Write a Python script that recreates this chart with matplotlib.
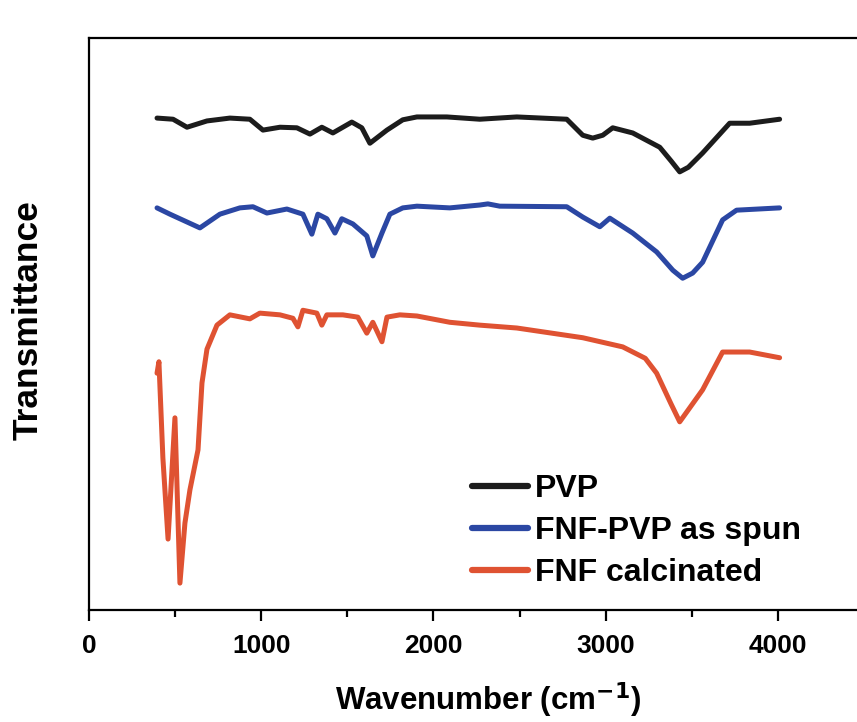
import numpy as np
import matplotlib.pyplot as plt

# FTIR spectra (transmittance in arbitrary units, 0-100 = plot height)
pvp_wn = [395, 488, 569, 685, 818, 934, 1010, 1109, 1207, 1283, 1352, 1416, 1526, 1584, 1631,
          1730, 1822, 1904, 2078, 2269, 2484, 2774, 2867, 2925, 2983, 3041, 3157, 3314, 3380, 3430,
          3480, 3563, 3720, 3836, 4010]
pvp_t = [86.0, 85.8, 84.4, 85.5, 86.0, 85.8, 83.9, 84.4, 84.3, 83.2, 84.4, 83.4, 85.3, 84.3, 81.6,
         83.9, 85.7, 86.2, 86.2, 85.8, 86.2, 85.8, 83.0, 82.5, 83.0, 84.3, 83.4, 80.9, 78.5, 76.6,
         77.4, 79.9, 85.1, 85.1, 85.8]

fnf_pvp_wn = [395, 470, 528, 644, 760, 876, 952, 1033, 1149, 1242, 1294, 1329, 1381, 1428, 1468, 1532,
              1613, 1648, 1701, 1747, 1822, 1904, 2095, 2269, 2316, 2385, 2774, 2867, 2966, 3024,
              3157, 3296, 3390, 3447, 3505, 3563, 3679, 3760, 4010]
fnf_pvp_t = [70.3, 69.2, 68.4, 66.8, 69.2, 70.3, 70.5, 69.4, 70.1, 69.2, 65.7, 69.2, 68.4, 65.9, 68.4, 67.5,
             65.4, 61.9, 65.9, 69.2, 70.3, 70.6, 70.3, 70.8, 71.0, 70.6, 70.5, 68.7, 67.0, 68.5,
             65.9, 62.6, 59.4, 58.0, 58.9, 60.8, 68.2, 69.9, 70.3]

fnf_calc_wn = [395, 406, 429, 459, 499, 528, 557, 586, 633, 656, 685, 743, 818, 934, 992, 1109, 1184,
               1213, 1242, 1323, 1352, 1381, 1474, 1561, 1613, 1648, 1701, 1730, 1805, 1904, 2095,
               2269, 2484, 2867, 3099, 3230, 3296, 3380, 3430, 3480, 3563, 3679, 3836, 4010]
fnf_calc_t = [41.4, 43.4, 26.6, 12.4, 33.6, 4.7, 15.2, 21.0, 28.0, 39.7, 45.6, 49.8, 51.6, 50.9, 51.9,
              51.6, 51.0, 49.5, 52.4, 51.9, 49.8, 51.6, 51.6, 51.2, 48.4, 50.3, 46.9, 51.2, 51.6,
              51.4, 50.3, 49.8, 49.3, 47.6, 46.0, 44.0, 41.4, 36.0, 32.9, 35.0, 38.5, 45.1, 45.1, 44.1]

labels = ['PVP', 'FNF-PVP as spun', 'FNF calcinated']
colors = ['#1c1c1c', '#2b47a3', '#df5232']

font = ['Liberation Sans', 'DejaVu Sans']

fig = plt.figure(figsize=(8.57, 7.22), dpi=100)
ax = fig.add_axes([89 / 857, 112 / 722, 775 / 857, 572 / 722])

series = [(pvp_wn, pvp_t), (fnf_pvp_wn, fnf_pvp_t), (fnf_calc_wn, fnf_calc_t)]
for (wn, t), lab, c in zip(series, labels, colors):
    ax.plot(wn, t, color=c, lw=3.6, label=lab, solid_capstyle='round', solid_joinstyle='round')

ax.set_xlim(0, 4500)
ax.set_ylim(0, 100)
ax.set_xticks([0, 1000, 2000, 3000, 4000])
ax.set_xticks(np.arange(500, 4500, 1000), minor=True)
ax.set_yticks([])
ax.tick_params(axis='x', which='major', length=8, width=1.6, direction='out', pad=9)
ax.tick_params(axis='x', which='minor', length=5, width=1.6, direction='out')
for lbl in ax.get_xticklabels():
    lbl.set_family(font)
    lbl.set_fontweight('bold')
    lbl.set_fontsize(19)
for sp in ax.spines.values():
    sp.set_linewidth(1.6)

fig.text(488 / 857, 1 - 700 / 722, 'Wavenumber (cm$^{\\mathbf{-1}}$)', ha='center', va='center',
         family=font, fontweight='bold', fontsize=22.5)
fig.text(28 / 857, 1 - 320 / 722, 'Transmittance', rotation=90, ha='center', va='center',
         family=font, fontweight='bold', fontsize=25.5)

leg = ax.legend(loc='upper left', bbox_to_anchor=(472 / 857, 1 - 474 / 722), bbox_transform=fig.transFigure,
                frameon=False, handlelength=1.75, handletextpad=0.22, labelspacing=0.38, borderpad=0,
                borderaxespad=0, prop={'family': font, 'weight': 'bold', 'size': 23})
for h in leg.get_lines():
    h.set_linewidth(4.5)

fig.savefig('out.png', dpi=100)
